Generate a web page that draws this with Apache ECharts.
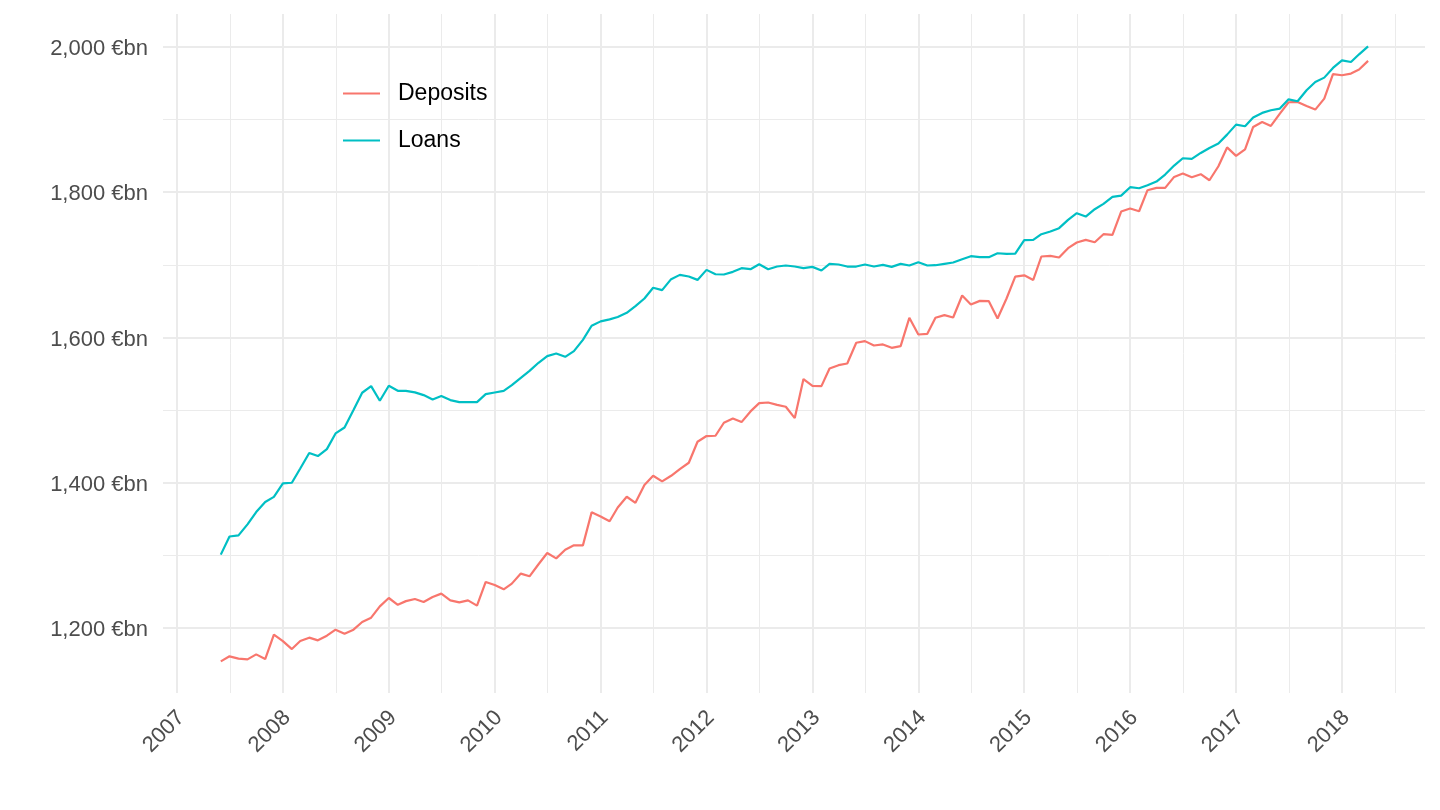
<!DOCTYPE html>
<html>
<head>
<meta charset="utf-8">
<title>Deposits and loans</title>
<script src="https://cdn.jsdelivr.net/npm/echarts@6/dist/echarts.min.js"></script>
<style>
    html, body { margin: 0; padding: 0; background: #fff; }
    #chart { width: 1440px; height: 810px; }
</style>
</head>
<body>
<div id="chart"></div>
<script>
    // monthly observations, first one is June 2007
    const startYear = 2007;
    const startMonth = 6;

    const deposits = [
        1154, 1161, 1157.8, 1156.8, 1163.7, 1157.3, 1190.8, 1182, 1171, 1182,
        1186.7, 1183, 1189.4, 1197.7, 1192.2, 1197.7, 1208.3, 1214.2, 1229.8, 1241.3,
        1232, 1237, 1240, 1235.8, 1242.7, 1247.3, 1238.1, 1235.3, 1238.1, 1230.8,
        1263.4, 1259.2, 1253.3, 1261.1, 1274.9, 1271.2, 1287.8, 1303.2, 1295.9, 1307.8,
        1313.8, 1313.8, 1359.2, 1353.5, 1347, 1366, 1380.7, 1372.4, 1396.8, 1409.6,
        1401.8, 1409.6, 1418.8, 1427.5, 1456.4, 1464.3, 1464.7, 1482.6, 1488.5, 1483.5,
        1498.2, 1509.6, 1510.5, 1507.3, 1504.6, 1489, 1542.7, 1533.5, 1533, 1557.3,
        1561.9, 1564.2, 1592.7, 1595, 1589, 1590.4, 1585.8, 1588.1, 1627.1, 1604.1,
        1605, 1627.1, 1630.8, 1627.5, 1657.8, 1645.4, 1650.4, 1650, 1626.2, 1653.7,
        1683.7, 1685.6, 1679.2, 1711.5, 1712.4, 1710.1, 1723, 1730.8, 1734.4, 1731.2,
        1742.2, 1741.3, 1773.4, 1777.5, 1773.8, 1802.8, 1806, 1806, 1821.1, 1825.7,
        1820.6, 1824.8, 1816.5, 1835.8, 1861.7, 1850, 1859.1, 1889.9, 1896.8, 1891.3,
        1908.3, 1923.9, 1924.4, 1918.8, 1913.8, 1928.9, 1962.5, 1961.1, 1963.4, 1968.9,
        1980.8
    ];

    const loans = [
        1301, 1326, 1327.5, 1342.7, 1359.7, 1373.5, 1380.5, 1399, 1400, 1419.7,
        1441, 1436.7, 1446.3, 1467.9, 1476, 1500, 1523.9, 1533, 1512.9, 1533.5,
        1526.6, 1526.6, 1524.4, 1520.7, 1514.7, 1519.3, 1513.8, 1511, 1511, 1511,
        1522, 1524.3, 1526.6, 1534.4, 1544.5, 1554.1, 1565.2, 1574.3, 1578, 1573.4,
        1581.2, 1596.8, 1616.1, 1622.2, 1625, 1628.3, 1634, 1643.2, 1653.7, 1668.4,
        1665.2, 1680.3, 1686.2, 1684, 1679.3, 1693.1, 1687.1, 1686.7, 1690.4, 1695.4,
        1694, 1700.9, 1694, 1697.7, 1699.1, 1697.7, 1695.6, 1697.2, 1692.2, 1701.4,
        1700.5, 1697.7, 1697.7, 1700.5, 1697.7, 1700, 1697.2, 1701.4, 1699.1, 1703.7,
        1699.1, 1699.5, 1701.4, 1703.2, 1707.8, 1711.9, 1710.6, 1710.6, 1716, 1715.1,
        1715.6, 1734, 1734.4, 1742.2, 1745.9, 1750.5, 1762, 1771.1, 1766.5, 1776.6,
        1784, 1793.6, 1795.4, 1806.9, 1805.5, 1809.6, 1814.7, 1824.3, 1836.7, 1846.8,
        1845.9, 1854.1, 1861, 1867, 1879.3, 1893.1, 1890.8, 1902.8, 1909.2, 1912.9,
        1915.2, 1927.9, 1925.2, 1940.4, 1951.8, 1957.8, 1971.1, 1981.6, 1979.3, 1989.9,
        2000.9
    ];

    const xTicks = [2007, 2008, 2009, 2010, 2011, 2012, 2013, 2014, 2015, 2016, 2017, 2018];
    const yTicks = [1200, 1400, 1600, 1800, 2000];

    // date -> fractional year (first day of each month)
    function yearFrac(y, m) {
        const t0 = Date.UTC(y, 0, 1);
        const t1 = Date.UTC(y + 1, 0, 1);
        return y + (Date.UTC(y, m - 1, 1) - t0) / (t1 - t0);
    }

    const xs = deposits.map((d, i) => {
        const n = startMonth - 1 + i;
        return yearFrac(startYear + Math.floor(n / 12), (n % 12) + 1);
    });

    const chartDom = document.getElementById('chart');
    const myChart = echarts.init(chartDom, null, { renderer: 'canvas' });

    const gridColor = '#ebebeb';
    const font = '"Liberation Sans", Arial, Helvetica, sans-serif';

    const option = {
        animation: false,
        backgroundColor: '#fff',
        grid: {
            left: 163,
            right: 15,
            top: 14,
            bottom: 117,
            containLabel: false,
            outerBoundsMode: 'none'
        },
        legend: {
            orient: 'vertical',
            left: 343,
            top: 78,
            padding: 0,
            itemGap: 16,
            itemWidth: 37,
            itemHeight: 2,
            icon: 'rect',
            textStyle: {
                fontFamily: font,
                fontSize: 23,
                lineHeight: 26,
                color: '#000',
                padding: [5, 0, 0, 13]
            },
            data: ['Deposits', 'Loans']
        },
        xAxis: {
            type: 'value',
            min: 2006.868,
            max: 2018.784,
            minInterval: 1,
            maxInterval: 1,
            axisLine: { show: false },
            axisTick: { show: false },
            minorTick: { show: false, splitNumber: 2 },
            axisLabel: {
                rotate: 45,
                align: 'right',
                verticalAlign: 'top',
                margin: 10,
                padding: [0, 5, 0, 0],
                showMinLabel: false,
                showMaxLabel: false,
                fontFamily: font,
                fontSize: 22,
                color: '#4d4d4d',
                formatter: v => {
                    const y = Math.round(v);
                    return Math.abs(v - y) < 1e-6 && xTicks.includes(y) ? String(y) : '';
                }
            },
            splitLine: {
                show: true,
                showMinLine: false,
                showMaxLine: false,
                lineStyle: { color: gridColor, width: 2 }
            },
            minorSplitLine: {
                show: true,
                lineStyle: { color: gridColor, width: 1 }
            }
        },
        yAxis: {
            type: 'value',
            min: 1110.5,
            max: 2045.4,
            minInterval: 200,
            maxInterval: 200,
            axisLine: { show: false },
            axisTick: { show: false },
            minorTick: { show: false, splitNumber: 2 },
            axisLabel: {
                margin: 15,
                verticalAlign: 'top',
                padding: [-9, 0, 0, 0],
                showMinLabel: false,
                showMaxLabel: false,
                fontFamily: font,
                fontSize: 22,
                color: '#4d4d4d',
                formatter: v => yTicks.includes(Math.round(v)) && Math.abs(v - Math.round(v)) < 1e-6
                    ? Math.round(v).toLocaleString('en-US') + ' €bn' : ''
            },
            splitLine: {
                show: true,
                showMinLine: false,
                showMaxLine: false,
                lineStyle: { color: gridColor, width: 2 }
            },
            minorSplitLine: {
                show: true,
                lineStyle: { color: gridColor, width: 1 }
            }
        },
        series: [
            {
                name: 'Deposits',
                type: 'line',
                symbol: 'none',
                showSymbol: false,
                color: '#f8766d',
                lineStyle: { width: 2.2, color: '#f8766d' },
                data: xs.map((x, i) => [x, deposits[i]])
            },
            {
                name: 'Loans',
                type: 'line',
                symbol: 'none',
                showSymbol: false,
                color: '#00bfc4',
                lineStyle: { width: 2.2, color: '#00bfc4' },
                data: xs.map((x, i) => [x, loans[i]])
            }
        ]
    };

    myChart.setOption(option);

    window.addEventListener('resize', () => {
        myChart.resize();
    });
</script>
</body>
</html>
